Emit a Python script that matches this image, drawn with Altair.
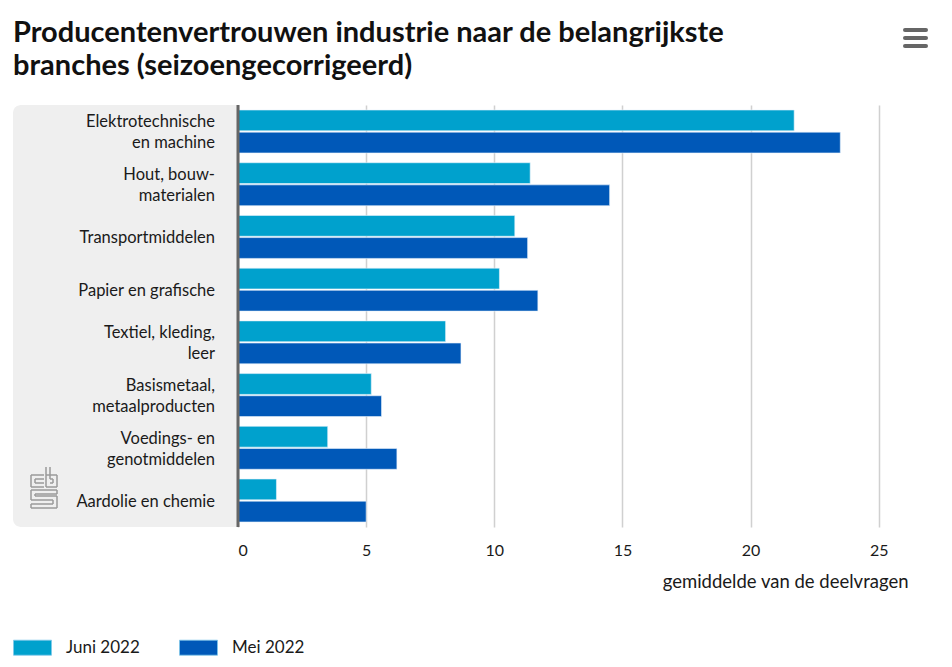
import altair as alt
import pandas as pd

categories = [
    "Elektrotechnische en machine",
    "Hout, bouwmaterialen",
    "Transportmiddelen",
    "Papier en grafische",
    "Textiel, kleding, leer",
    "Basismetaal, metaalproducten",
    "Voedings- en genotmiddelen",
    "Aardolie en chemie",
]
label_line1 = ["Elektrotechnische", "Hout, bouw-", "Transportmiddelen", "Papier en grafische",
               "Textiel, kleding,", "Basismetaal,", "Voedings- en", "Aardolie en chemie"]
label_line2 = ["en machine", "materialen", "", "", "leer", "metaalproducten", "genotmiddelen", ""]
juni_2022 = [21.7, 11.4, 10.8, 10.2, 8.1, 5.2, 3.5, 1.5]
mei_2022 = [23.5, 14.5, 11.3, 11.7, 8.7, 5.6, 6.2, 5.0]
series = ["Juni 2022", "Mei 2022"]
colors = ["#00a1cd", "#0058b8"]
x_ticks = [0, 5, 10, 15, 20, 25]
title_lines = ["Producentenvertrouwen industrie naar de belangrijkste",
               "branches (seizoengecorrigeerd)"]

rows = []
for c, j, m in zip(categories, juni_2022, mei_2022):
    rows.append({"cat": c, "serie": series[0], "waarde": j})
    rows.append({"cat": c, "serie": series[1], "waarde": m})
df = pd.DataFrame(rows)
lab = pd.DataFrame({"cat": categories, "l1": label_line1, "l2": label_line2})
lab["two"] = lab["l2"] != ""
one = pd.DataFrame({"t": title_lines[:1]})

FONT = "Lato"
W, H = 692, 422
LFS = 16.5

yscale = alt.Scale(domain=categories, paddingInner=0.185, paddingOuter=0.095)
yenc = alt.Y("cat:N", sort=categories, scale=yscale, axis=None)

bg = alt.Chart(one).mark_rect(
    color="#efefef", cornerRadiusTopLeft=8, cornerRadiusBottomLeft=8
).encode(
    x=alt.value(-225), x2=alt.value(0), y=alt.value(0), y2=alt.value(H)
)

bars = alt.Chart(df).mark_bar(stroke="#e8f2fb", strokeWidth=0.6).encode(
    x=alt.X(
        "waarde:Q",
        scale=alt.Scale(domain=[0, 27], nice=False),
        axis=alt.Axis(
            values=x_ticks,
            grid=True,
            gridColor="#d0d0d0",
            gridWidth=1.5,
            domain=False,
            ticks=False,
            labelFont=FONT,
            labelFontSize=16,
            labelColor="#1a1a1a",
            labelPadding=15,
            labelBaseline="top",
            title="gemiddelde van de deelvragen",
            titleFont=FONT,
            titleFontSize=18.5,
            titleFontWeight="normal",
            titleColor="#1a1a1a",
            titleAlign="right",
            titleAnchor="end",
            titleX=670,
            titleY=54,
            titleBaseline="middle",
        ),
    ),
    y=yenc,
    yOffset=alt.YOffset("serie:N", sort=series, scale=alt.Scale(paddingInner=0.06)),
    color=alt.Color(
        "serie:N",
        sort=series,
        scale=alt.Scale(domain=series, range=colors),
        legend=alt.Legend(
            title=None,
            orient="none",
            legendX=-225,
            legendY=523,
            direction="horizontal",
            symbolType="M-1,-0.395H1V0.395H-1Z",
            symbolSize=1444,
            symbolStrokeColor="#7fc8ea",
            symbolStrokeWidth=0.8,
            symbolOpacity=1,
            labelFont=FONT,
            labelFontSize=17,
            labelColor="#1a1a1a",
            labelOffset=14,
            columnPadding=37,
        ),
    ),
)

txt = dict(align="right", baseline="middle", font=FONT, fontSize=LFS, color="#1a1a1a")

labels_single = alt.Chart(lab).transform_filter("!datum.two").mark_text(dy=1, **txt).encode(
    x=alt.value(-23), y=yenc, text="l1:N"
)
labels_top = alt.Chart(lab).transform_filter("datum.two").mark_text(dy=-9, **txt).encode(
    x=alt.value(-23), y=yenc, text="l1:N"
)
labels_bot = alt.Chart(lab).transform_filter("datum.two").mark_text(dy=12, **txt).encode(
    x=alt.value(-23), y=yenc, text="l2:N"
)

zero = alt.Chart(one).mark_rule(color="#666666", strokeWidth=3).encode(
    x=alt.value(0), y=alt.value(0), y2=alt.value(H)
)

title = alt.Chart(one).mark_text(
    text=title_lines, align="left", baseline="alphabetic", lineHeight=33,
    font=FONT, fontSize=29, fontWeight="bold", color="#111111"
).encode(x=alt.value(-225), y=alt.value(-63))

menu = [
    alt.Chart(one).mark_rule(color="#666666", strokeWidth=4, strokeCap="round").encode(
        x=alt.value(667), x2=alt.value(688), y=alt.value(yy)
    )
    for yy in (-75, -67, -59)
]

# small decorative CBS logo (outlined "cbs" glyphs), positions relative to the plot origin
ox, oy = -238, -105
logo_segments = [
    # c
    (44, 475, 31, 475), (31, 475, 31, 487), (31, 487, 44, 487),
    (44, 479, 35, 479), (35, 479, 35, 483), (35, 483, 44, 483),
    # b
    (46, 467, 46, 487), (46, 475, 57, 475), (57, 475, 57, 487), (46, 487, 57, 487),
    (50, 467, 50, 479), (50, 479, 53, 479), (53, 479, 53, 483), (50, 483, 53, 483),
    # s
    (31, 490, 57, 490), (31, 490, 31, 500), (31, 500, 53, 500), (57, 490, 57, 494),
    (35, 494, 57, 494), (35, 494, 35, 496), (35, 496, 57, 496), (57, 496, 57, 508),
    (31, 508, 57, 508), (31, 504, 31, 508), (31, 504, 53, 504), (53, 500, 53, 504),
]
logo = [
    alt.Chart(one).mark_rule(color="#9a9a9a", strokeWidth=1.5).encode(
        x=alt.value(x1 + ox), x2=alt.value(x2 + ox), y=alt.value(y1 + oy), y2=alt.value(y2 + oy)
    )
    for (x1, y1, x2, y2) in logo_segments
]

chart = alt.layer(
    bg, *logo, bars, labels_single, labels_top, labels_bot, zero, title, *menu
).properties(
    width=W,
    height=H,
    padding={"left": 230, "top": 97, "right": 14, "bottom": 140},
    autosize=alt.AutoSizeParams(type="none"),
).configure_view(stroke=None)

chart.save("out.html", embed_options={"renderer": "svg", "actions": False})
